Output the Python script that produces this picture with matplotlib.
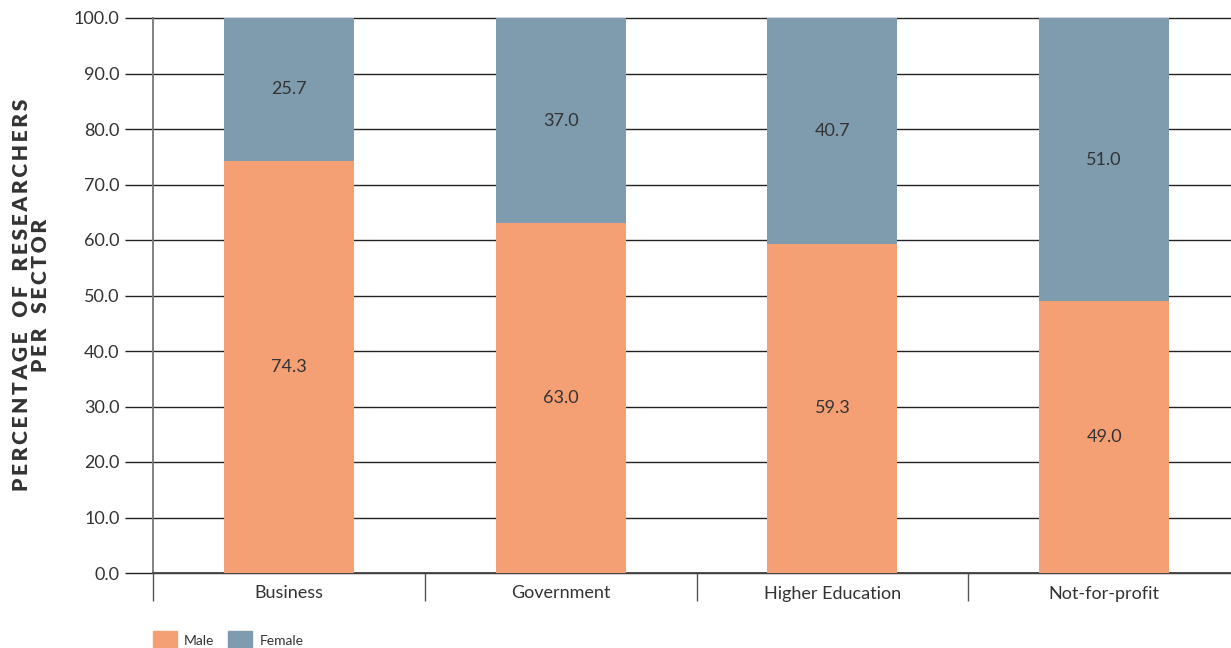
import matplotlib.pyplot as plt
from matplotlib.patches import Patch
import numpy as np

sectors = ["Business", "Government", "Higher Education", "Not-for-profit"]
male = [74.3, 63.0, 59.3, 49.0]
female = [25.7, 37.0, 40.7, 51.0]
yticks = [0, 10, 20, 30, 40, 50, 60, 70, 80, 90, 100]

MALE_COL = "#F5A074"
FEMALE_COL = "#7F9BAE"
TXT = "#333333"

plt.rcParams['font.family'] = ['Lato', 'DejaVu Sans']


def spaced(s):
    # widen letter spacing for the axis title
    return "\u2009".join(s).replace("\u2009 \u2009", "   ")


fig = plt.figure(figsize=(12.31, 6.48), dpi=100)
ax = fig.add_axes([153 / 1231, 1 - 573 / 648, 1087 / 1231, 555 / 648])

x = np.arange(len(sectors))
ax.bar(x, male, width=0.478, color=MALE_COL, zorder=3)
ax.bar(x, female, width=0.478, bottom=male, color=FEMALE_COL, zorder=3)

for i in range(len(sectors)):
    ax.text(x[i], male[i] / 2, f"{male[i]:.1f}", ha="center", va="center",
            fontsize=13, color=TXT, zorder=4)
    ax.text(x[i], male[i] + female[i] / 2, f"{female[i]:.1f}", ha="center",
            va="center", fontsize=13, color=TXT, zorder=4)

ax.set_xlim(-0.5, 3.5)
ax.set_ylim(0, 100)
ax.set_yticks(yticks)
ax.set_yticklabels([f"{v:.1f}" for v in yticks], fontsize=13, color=TXT)
ax.set_xticks(x)
ax.set_xticklabels(sectors, fontsize=13, color=TXT)
ax.set_xticks(np.arange(-0.5, 3.5, 1), minor=True)

for v in yticks:
    ax.axhline(v, color="#222222", lw=1.0, zorder=1, clip_on=False)

ax.tick_params(axis="y", length=20, width=1.0, color="#222222", pad=4)
ax.tick_params(axis="x", which="major", length=0, pad=9)
ax.tick_params(axis="x", which="minor", length=20, width=1.0, color="#555555")

for s in ["top", "right"]:
    ax.spines[s].set_visible(False)
ax.spines["left"].set_color("#777777")
ax.spines["left"].set_linewidth(1.3)
ax.spines["bottom"].set_color("#444444")
ax.spines["bottom"].set_linewidth(1.3)

fig.text(31 / 1231, 1 - 295 / 648,
         spaced("PERCENTAGE OF RESEARCHERS") + "\n" + spaced("PER SECTOR"),
         rotation=90, ha="center", va="center", fontsize=15,
         fontweight="heavy", color=TXT, linespacing=1.05)

handles = [Patch(color=MALE_COL, label="Male"),
           Patch(color=FEMALE_COL, label="Female")]
fig.legend(handles=handles, loc="lower left",
           bbox_to_anchor=(140 / 1231, -0.022), ncol=2, frameon=False,
           fontsize=10, handlelength=1.75, handleheight=1.75,
           handletextpad=0.5, columnspacing=1.0, labelcolor=TXT)

fig.savefig("out.png", dpi=100, facecolor="white")
